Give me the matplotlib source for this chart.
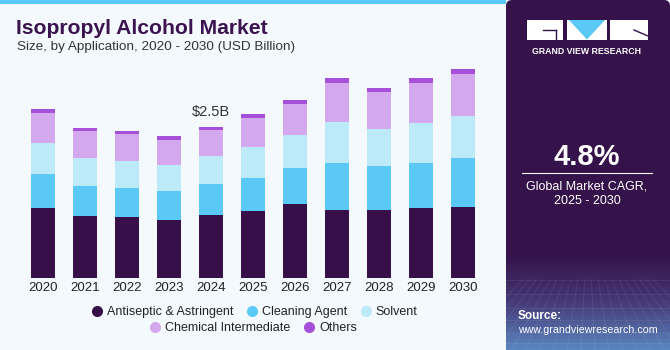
import matplotlib
matplotlib.use("Agg")
import matplotlib.pyplot as plt
import numpy as np
from matplotlib.patches import Rectangle, Polygon, FancyBboxPatch
from matplotlib.lines import Line2D
from matplotlib.colors import LinearSegmentedColormap

years = ["2020", "2021", "2022", "2023", "2024", "2025", "2026", "2027", "2028", "2029", "2030"]
antiseptic = [1.16, 1.03, 1.01, 0.965, 1.05, 1.12, 1.23, 1.13, 1.136, 1.164, 1.186]
cleaning = [0.568, 0.50, 0.485, 0.48, 0.513, 0.546, 0.59, 0.78, 0.72, 0.745, 0.806]
solvent = [0.508, 0.46, 0.447, 0.43, 0.464, 0.503, 0.55, 0.67, 0.62, 0.67, 0.70]
chemical = [0.508, 0.45, 0.44, 0.42, 0.436, 0.49, 0.52, 0.66, 0.61, 0.656, 0.69]
others = [0.056, 0.045, 0.055, 0.056, 0.05, 0.056, 0.056, 0.077, 0.066, 0.077, 0.077]
series_names = ["Antiseptic & Astringent", "Cleaning Agent", "Solvent", "Chemical Intermediate", "Others"]
colors = ["#37104A", "#5BC9F5", "#BDEAF9", "#D4A8EE", "#A64FD9"]
highlight_label = "$2.5B"
highlight_idx = 4

plt.rcParams['font.family'] = ['Liberation Sans', 'DejaVu Sans']

fig = plt.figure(figsize=(6.7, 3.5), dpi=100)
fig.patch.set_facecolor("#F4F9FD")

W, H = 670.0, 350.0
def fx(px):
    return px / W
def fy(py):
    return 1 - py / H

panel_bg = "#36124A"

# right panel as an axes so it sits under the other panel axes
pax = fig.add_axes([fx(506), 0, fx(164), 1], zorder=-5)
pax.set_xlim(0, 164)
pax.set_ylim(0, 350)
pax.add_patch(FancyBboxPatch((0, -10), 164, 360, boxstyle="round,pad=0,rounding_size=6",
                             facecolor=panel_bg, edgecolor="none"))
grad = np.linspace(0, 1, 100).reshape(-1, 1)
cmap = LinearSegmentedColormap.from_list("g", [panel_bg, "#463A78", "#5A86BF"])
pax.imshow(grad, aspect="auto", cmap=cmap, origin="upper", extent=[0, 164, 0, 95], zorder=2)
for k in np.linspace(-50, 214, 20):
    pax.plot([82 + (k - 82) * 0.5, k], [70, 0], color="white", alpha=0.08, lw=0.6, zorder=3)
for k in [7, 17, 30, 42, 56, 70]:
    pax.plot([0, 164], [k, k], color="white", alpha=0.07, lw=0.6, zorder=3)
pax.axis("off")

# top stripe
fig.patches.append(Rectangle((0, fy(4)), fx(506), 4 / H, transform=fig.transFigure,
                             facecolor="#5BC9F5", edgecolor="none", zorder=0))

# logo
lg = fig.add_axes([fx(527), fy(40), fx(121), 20 / H])
lg.set_xlim(527, 648)
lg.set_ylim(40, 20)
lg.add_patch(Rectangle((527, 20), 36, 19.5, facecolor="white", edgecolor="none"))
lg.add_patch(Rectangle((567, 20), 40, 19.5, facecolor="white", edgecolor="none"))
lg.add_patch(Polygon([(569, 20), (605, 20), (587, 39.5)], facecolor="#5BC9F5", edgecolor="none"))
lg.add_patch(Rectangle((610, 20), 38, 19.5, facecolor="white", edgecolor="none"))
lg.plot([543, 556], [30, 30], color=panel_bg, lw=1)
lg.plot([556, 556], [30, 39.5], color=panel_bg, lw=1)
lg.plot([634, 648], [30, 36], color=panel_bg, lw=1)
lg.axis("off")
fig.text(fx(587), fy(51), "GRAND VIEW RESEARCH", color="white", fontsize=6.3,
         fontweight="bold", ha="center", va="center")

fig.text(fx(587), fy(157), "4.8%", color="white", fontsize=21, fontweight="bold",
         ha="center", va="center")
fig.lines.append(Line2D([fx(522), fx(652)], [fy(173), fy(173)], transform=fig.transFigure,
                        color="white", lw=0.8))
fig.text(fx(587), fy(186), "Global Market CAGR,", color="white", fontsize=9,
         ha="center", va="center")
fig.text(fx(587), fy(201), "2025 - 2030", color="white", fontsize=9,
         ha="center", va="center")
fig.text(fx(518), fy(316), "Source:", color="white", fontsize=8.5, fontweight="bold",
         ha="left", va="center")
fig.text(fx(518), fy(330), "www.grandviewresearch.com", color="white", fontsize=7.7,
         ha="left", va="center")

# titles
fig.text(fx(16), fy(29), "Isopropyl Alcohol Market", color="#3A1350", fontsize=15.2,
         fontweight="bold", ha="left", va="center")
fig.text(fx(17), fy(47), "Size, by Application, 2020 - 2030 (USD Billion)", color="#333333",
         fontsize=9.7, ha="left", va="center")

# chart
ax = fig.add_axes([fx(17.8), fy(278.3), fx(470.4), 217.4 / H])
ax.set_facecolor("none")
x = np.arange(len(years))
bottom = np.zeros(len(years))
data = [antiseptic, cleaning, solvent, chemical, others]
for vals, col, name in zip(data, colors, series_names):
    ax.bar(x, vals, width=0.57, bottom=bottom, color=col, label=name, linewidth=0)
    bottom += np.array(vals)
ax.text(x[highlight_idx], bottom[highlight_idx] + 0.12, highlight_label, ha="center",
        va="bottom", fontsize=10.5, color="#333333")
ax.set_xlim(-0.6, 10.6)
ax.set_ylim(0, 3.6)
ax.set_xticks(x)
ax.set_xticklabels(years, fontsize=9.5, color="#222222")
ax.tick_params(axis="x", length=0, pad=3)
ax.set_yticks([])
for s in ax.spines.values():
    s.set_visible(False)

handles = [Line2D([0], [0], marker="o", color="none", markerfacecolor=c, markeredgecolor="none",
                  markersize=8) for c in colors]
leg1 = fig.legend(handles[:3], series_names[:3], loc="center", ncol=3,
                  bbox_to_anchor=(fx(254), fy(312)), frameon=False, fontsize=9,
                  handletextpad=0.3, columnspacing=1.0, handlelength=1)
leg2 = fig.legend(handles[3:], series_names[3:], loc="center", ncol=2,
                  bbox_to_anchor=(fx(253), fy(328)), frameon=False, fontsize=9,
                  handletextpad=0.3, columnspacing=1.0, handlelength=1)
for lg_ in (leg1, leg2):
    for t in lg_.get_texts():
        t.set_color("#222222")

fig.savefig("out.png", dpi=100, facecolor=fig.get_facecolor())
